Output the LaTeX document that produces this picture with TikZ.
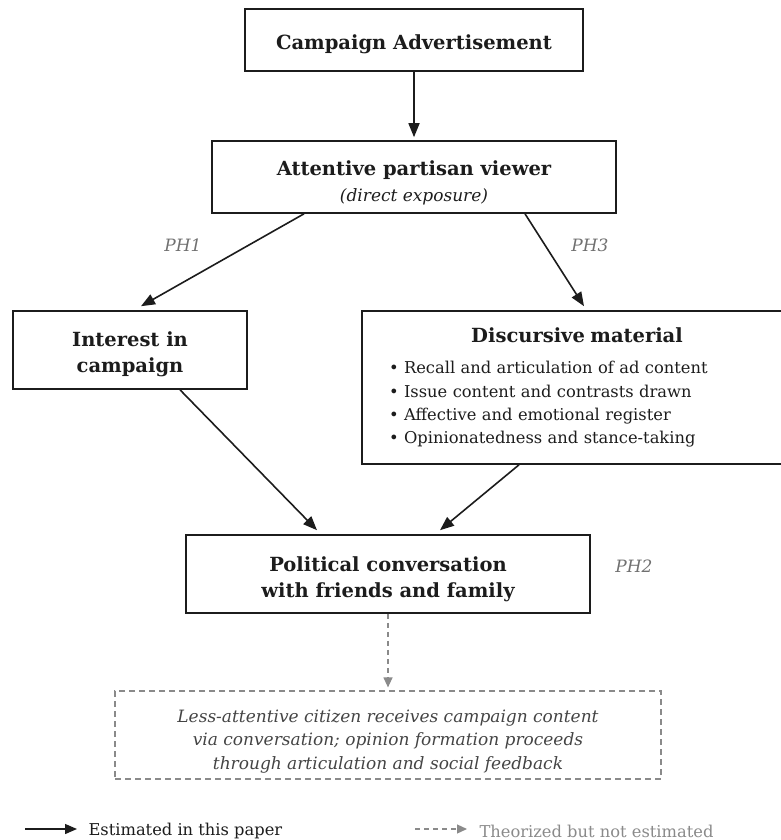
\documentclass[tikz,border=0pt]{standalone}
\usepackage{fontspec}
\setmainfont{DejaVu Serif}
\usetikzlibrary{arrows.meta}
\definecolor{ink}{HTML}{1C1C1C}
\definecolor{phgray}{HTML}{707070}
\definecolor{dashgray}{HTML}{8A8A8A}
\definecolor{notegray}{HTML}{444444}
\newcommand{\boxtitle}{\fontsize{19.5}{26}\selectfont\bfseries}
\newcommand{\boxbody}{\fontsize{16.3}{23.3}\selectfont}
% invisible strut: makes the first line taller, so the text sits lower in its box
\newcommand{\dropby}[1]{\rule{0pt}{#1}}
\tikzset{
	box/.style={draw=ink, line width=1.6pt, text=ink, align=center, inner sep=0pt, font=\boxtitle},
	notebox/.style={draw=dashgray, line width=1.2pt, dash pattern=on 6pt off 4pt,
		text=notegray, align=center, inner sep=0pt, font=\fontsize{17}{23.5}\selectfont\itshape},
	arr/.style={draw=ink, line width=1.6pt, -{Triangle[length=14pt,width=11pt]}},
	darr/.style={draw=dashgray, line width=1.2pt, dash pattern=on 5pt off 4pt,
		-{Triangle[length=10pt,width=9pt]}},
	phlabel/.style={text=phgray, font=\fontsize{17}{18}\selectfont\itshape},
}

\begin{document}
\begin{tikzpicture}[x=1pt, y=-1pt]
	% page: 781 x 840, 1 unit = 1 pixel
	\useasboundingbox (0,0) rectangle (781,840);
	% boxes
	\node[box, minimum width=338pt, minimum height=62pt] (advert) at (414,40)
		{\dropby{23pt}Campaign Advertisement};
	\node[box, minimum width=404pt, minimum height=72pt] (viewer) at (414,177)
		{\dropby{27pt}Attentive partisan viewer\\
		 {\fontsize{17}{20}\selectfont\mdseries\itshape (direct exposure)}};
	\node[box, minimum width=234pt, minimum height=78pt] (interest) at (130,350)
		{\dropby{23pt}Interest in\\ campaign};
	\node[box, minimum width=430pt, minimum height=153pt, text width=376pt,
		inner xsep=27pt, align=left, font=\boxbody] (discourse) at (577,387.5)
		{{\centering\boxtitle Discursive material\par}\vspace{8pt}
		 • Recall and articulation of ad content\\
		 • Issue content and contrasts drawn\\
		 • Affective and emotional register\\
		 • Opinionatedness and stance-taking\par};
	\node[box, minimum width=404pt, minimum height=78pt] (talk) at (388,574)
		{\dropby{25pt}Political conversation\\ with friends and family};
	\node[notebox, minimum width=546pt, minimum height=88pt] (citizen) at (388,735)
		{\dropby{25pt}Less-attentive citizen receives campaign content\\
		 via conversation; opinion formation proceeds\\
		 through articulation and social feedback};
	% path labels
	\node[phlabel] (ph1) at (183,245) {PH1};
	\node[phlabel] (ph3) at (590,245) {PH3};
	\node[phlabel] (ph2) at (634,566) {PH2};
	% estimated paths
	\draw[arr] (advert) -- ([yshift=3pt]viewer.north);
	\draw[arr] ([xshift=-110pt]viewer.south) -- ([xshift=11pt,yshift=4pt]interest.north);
	\draw[arr] ([xshift=111pt]viewer.south) -- ([xshift=7pt,yshift=4pt]discourse.north);
	\draw[arr] ([xshift=50pt]interest.south) -- ([xshift=-71pt,yshift=4pt]talk.north);
	\draw[arr] ([xshift=-58pt]discourse.south) -- ([xshift=52pt,yshift=4pt]talk.north);
	% theorized path
	\draw[darr] (talk) -- ([yshift=3pt]citizen.north);
	% legend
	\coordinate (solidA) at (25,829);
	\coordinate (solidB) at (77,829);
	\draw[arr, line width=1.4pt, -{Triangle[length=12pt,width=10pt]}] (solidA) -- (solidB);
	\node[anchor=west, text=ink, font=\boxbody] (solidtxt) at (85,831) {Estimated in this paper};
	\coordinate (dashA) at (415,829);
	\coordinate (dashB) at (467,829);
	\draw[darr] (dashA) -- (dashB);
	\node[anchor=west, text=dashgray, font=\boxbody] (dashtxt) at (476,831) {Theorized but not estimated};
\end{tikzpicture}
\end{document}
